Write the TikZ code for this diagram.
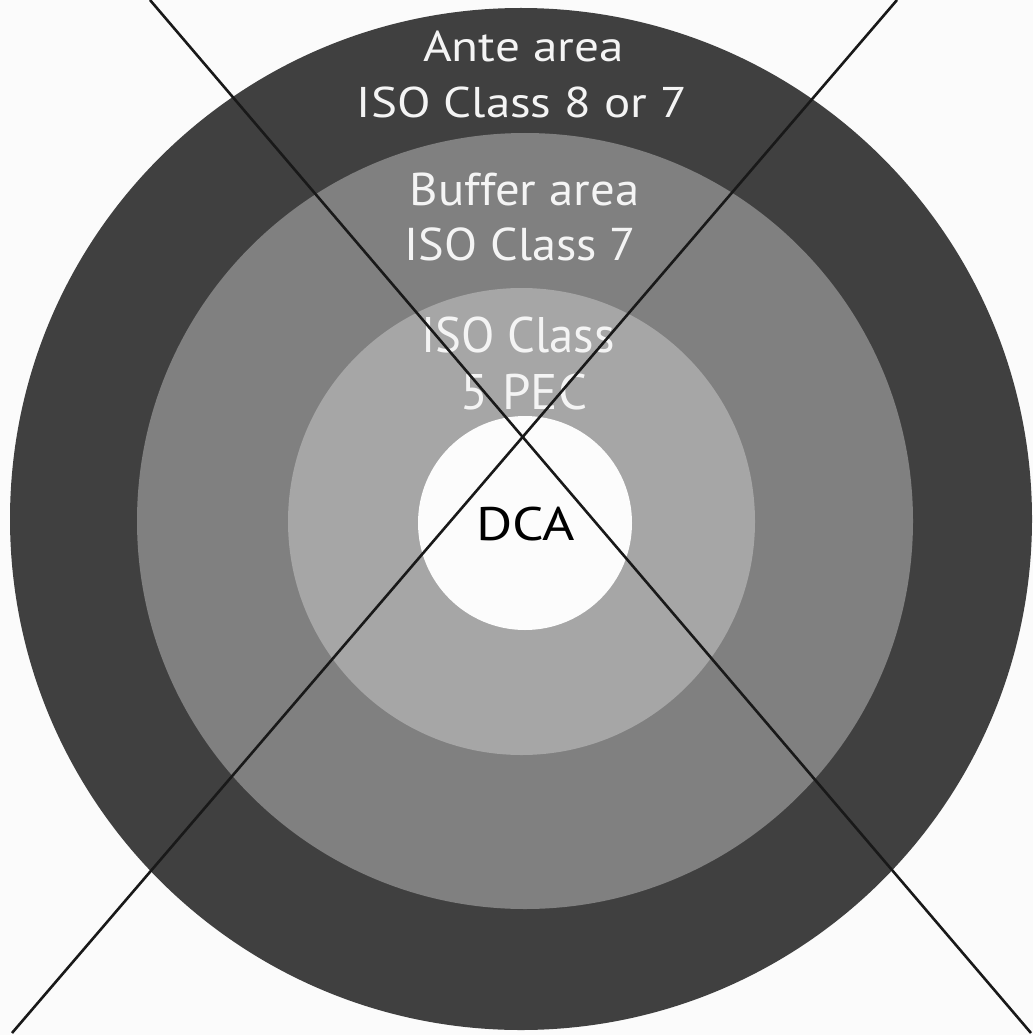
\documentclass[tikz,border=0pt]{standalone}
\usepackage{fontspec}
\usepackage{graphicx}
\setmainfont{PT Sans}
\definecolor{bgc}{HTML}{FBFBFB}
\definecolor{anteC}{HTML}{404040}
\definecolor{bufC}{HTML}{808080}
\definecolor{pecC}{HTML}{A6A6A6}
\definecolor{dcaC}{HTML}{FCFCFC}
\definecolor{lblC}{HTML}{F4F4F4}
\begin{document}
\begin{tikzpicture}[x=1pt,y=-1pt,
  ring/.style={circle, draw=none, inner sep=0pt},
  lbl/.style={anchor=base, inner sep=0pt, text=lblC},
  cross/.style={line width=2.6pt, draw=black!90}]
\useasboundingbox[fill=bgc] (0,0) rectangle (1033,1035);
\node[ring, fill=anteC, minimum size=1022pt] (ante) at (521,519) {};
\node[ring, fill=bufC, minimum size=776pt] (buffer) at (525,521) {};
\node[ring, fill=pecC, minimum size=467pt] (pec) at (521.5,521.5) {};
\node[ring, fill=dcaC, minimum size=214pt] (dca) at (525,523) {};
\node[lbl, font=\fontsize{43}{56}\selectfont] (t1) at (523.5,62) {\scalebox{1.145}[1]{Ante area}};
\node[lbl, font=\fontsize{43}{56}\selectfont] (t2) at (522,118) {\scalebox{1.14}[1]{ISO Class 8 or 7}};
\node[lbl, font=\fontsize{46}{56}\selectfont] (t3) at (524.5,205) {\scalebox{1.06}[1]{Buffer area}};
\node[lbl, font=\fontsize{46}{56}\selectfont] (t4) at (520.5,260) {\scalebox{1.05}[1]{ISO Class 7}};
\node[lbl, font=\fontsize{50}{56}\selectfont] (t5) at (518,352) {\scalebox{0.975}[1]{ISO Class}};
\node[lbl, font=\fontsize{50}{56}\selectfont] (t6) at (524,409) {\scalebox{1.02}[1]{5 PEC}};
\node[lbl, text=black, font=\fontsize{47}{56}\selectfont] (t7) at (525.5,540) {\scalebox{1.18}[1]{DCA}};
\coordinate (a1) at (150,0);
\coordinate (a2) at (1031,1033);
\coordinate (b1) at (897,0);
\coordinate (b2) at (12,1033);
\draw[cross] (a1) -- (a2);
\draw[cross] (b1) -- (b2);
\end{tikzpicture}
\end{document}
